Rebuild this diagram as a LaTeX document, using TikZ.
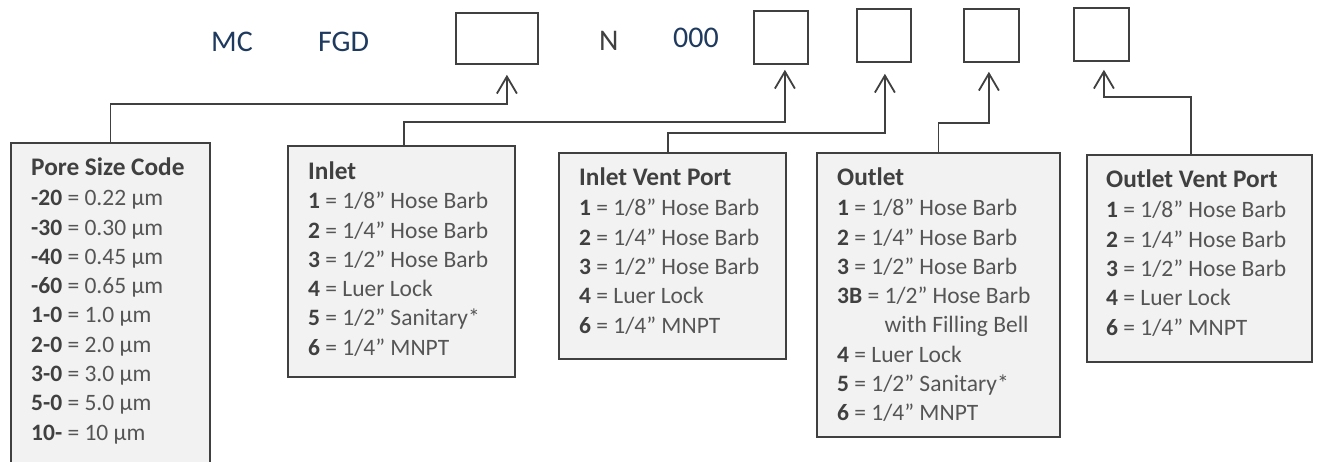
\documentclass[tikz,border=0pt]{standalone}
\usepackage{fontspec}
\setmainfont{Carlito}
\usetikzlibrary{arrows.meta,calc}
\definecolor{navy}{HTML}{1F3A5F}
\definecolor{ink}{HTML}{404040}
\definecolor{txt}{HTML}{555555}
\definecolor{boxfill}{HTML}{F2F2F2}
\newcommand{\codenum}[1]{\textcolor{ink}{\textbf{#1}}}
\begin{document}
\begin{tikzpicture}[x=1pt,y=-1pt,
  codebox/.style={draw=ink,line width=1.8pt,fill=white,inner sep=0pt,anchor=north west},
  infobox/.style={draw=ink,line width=1.8pt,fill=boxfill,inner sep=0pt,anchor=north west},
  toptext/.style={anchor=base west,inner sep=0pt,font=\fontsize{30}{36}\selectfont,text=navy},
  ttl/.style={anchor=base west,inner sep=0pt,font=\fontsize{25.3}{30}\selectfont\bfseries,text=ink},
  ln/.style={anchor=base west,inner sep=0pt,font=\fontsize{23.5}{28}\selectfont,text=txt},
  conn/.style={draw=ink,line width=1.8pt,-{Straight Barb[length=17pt,width=20pt]}}]
\clip (0,0) rectangle (1317,462);
\fill[white] (0,0) rectangle (1317,462);

% top row
\node[toptext] (mc) at (211,52) {MC};
\node[toptext] (fgd) at (318,52) {FGD};
\node[toptext,text=ink] (n) at (599,51) {N};
\node[toptext] (zeros) at (673,48) {000};

\node[codebox,minimum width=82pt,minimum height=51pt] (b1) at (455,12) {};
\node[codebox,minimum width=54pt,minimum height=53pt] (b2) at (753,10) {};
\node[codebox,minimum width=54pt,minimum height=53pt] (b3) at (856,8) {};
\node[codebox,minimum width=55pt,minimum height=53pt] (b4) at (963,8) {};
\node[codebox,minimum width=55pt,minimum height=53pt] (b5) at (1073,7) {};

% info boxes
\node[infobox,minimum width=199pt,minimum height=340pt] (p1) at (10,142) {};
\node[infobox,minimum width=227pt,minimum height=231pt] (p2) at (287,145) {};
\node[infobox,minimum width=227pt,minimum height=206pt] (p3) at (558,152) {};
\node[infobox,minimum width=243pt,minimum height=284pt] (p4) at (816,152) {};
\node[infobox,minimum width=225pt,minimum height=207pt] (p5) at (1086,154) {};

% connectors
\coordinate (s1) at (p1.north);
\coordinate (s2) at ([xshift=2.5pt]p2.north);
\coordinate (s3) at ([xshift=-4.5pt]p3.north);
\coordinate (s4) at (p4.north);
\coordinate (s5) at ([xshift=-8.5pt]p5.north);
\coordinate (t1) at ([xshift=10pt,yshift=-10pt]b1.south);
\coordinate (t2) at ([xshift=4pt,yshift=-5pt]b2.south);
\coordinate (t3) at ([xshift=1pt,yshift=-11pt]b3.south);
\coordinate (t4) at ([xshift=-2.5pt,yshift=-9pt]b4.south);
\coordinate (t5) at ([xshift=2.5pt,yshift=-8pt]b5.south);
\coordinate (h1) at (t1 |- 0,104);
\coordinate (h2) at (t2 |- 0,122);
\coordinate (h3) at (t3 |- 0,133);
\coordinate (h4) at (t4 |- 0,123);
\coordinate (h5) at (t5 |- 0,97);
\draw[conn] (s1) |- (h1) -- (t1);
\draw[conn] (s2) |- (h2) -- (t2);
\draw[conn] (s3) |- (h3) -- (t3);
\draw[conn] (s4) |- (h4) -- (t4);
\draw[conn] (s5) |- (h5) -- (t5);

% Pore Size Code
\node[ttl] (poret) at (31,176) {Pore Size Code};
\foreach \t [count=\i from 0] in {{\codenum{-20} = 0.22 µm},{\codenum{-30} = 0.30 µm},{\codenum{-40} = 0.45 µm},{\codenum{-60} = 0.65 µm},{\codenum{1-0} = 1.0 µm},{\codenum{2-0} = 2.0 µm},{\codenum{3-0} = 3.0 µm},{\codenum{5-0} = 5.0 µm},{\codenum{10-} = 10 µm}}
  \node[ln] (pore\i) at (31,206+29.25*\i) {\t};

% Inlet
\node[ttl] (inlett) at (308,180) {Inlet};
\foreach \t [count=\i from 0] in {{\codenum{1} = 1/8” Hose Barb},{\codenum{2} = 1/4” Hose Barb},{\codenum{3} = 1/2” Hose Barb},{\codenum{4} = Luer Lock},{\codenum{5} = 1/2” Sanitary*},{\codenum{6} = 1/4” MNPT}}
  \node[ln] (inlet\i) at (308,209+29.2*\i) {\t};

% Inlet Vent Port
\node[ttl] (ivpt) at (579,186) {Inlet Vent Port};
\foreach \t [count=\i from 0] in {{\codenum{1} = 1/8” Hose Barb},{\codenum{2} = 1/4” Hose Barb},{\codenum{3} = 1/2” Hose Barb},{\codenum{4} = Luer Lock},{\codenum{6} = 1/4” MNPT}}
  \node[ln] (ivp\i) at (579,216+29.25*\i) {\t};

% Outlet
\node[ttl] (outt) at (837,186) {Outlet};
\foreach \t [count=\i from 0] in {{\codenum{1} = 1/8” Hose Barb},{\codenum{2} = 1/4” Hose Barb},{\codenum{3} = 1/2” Hose Barb},{\codenum{3B} = 1/2” Hose Barb},{\phantom{\codenum{3B} = }with Filling Bell},{\codenum{4} = Luer Lock},{\codenum{5} = 1/2” Sanitary*},{\codenum{6} = 1/4” MNPT}}
  \node[ln] (out\i) at (837,216+29.2*\i) {\t};

% Outlet Vent Port
\node[ttl] (ovpt) at (1106,188) {Outlet Vent Port};
\foreach \t [count=\i from 0] in {{\codenum{1} = 1/8” Hose Barb},{\codenum{2} = 1/4” Hose Barb},{\codenum{3} = 1/2” Hose Barb},{\codenum{4} = Luer Lock},{\codenum{6} = 1/4” MNPT}}
  \node[ln] (ovp\i) at (1106,218+29.25*\i) {\t};
\end{tikzpicture}
\end{document}
